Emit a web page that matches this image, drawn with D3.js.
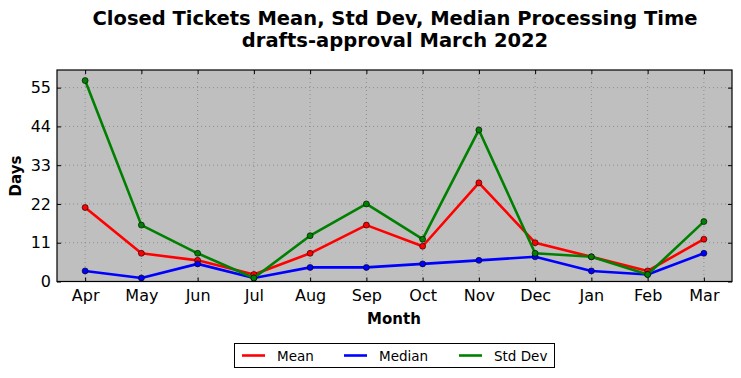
<!DOCTYPE html>
<html><head><meta charset="utf-8">
<script src="https://cdn.jsdelivr.net/npm/d3@7"></script>
<style>body{margin:0;background:#fff}svg{display:block}text{font-family:"DejaVu Sans",sans-serif}</style>
</head><body>
<svg id="c" width="741" height="378"></svg>
<script>
const months = ["Apr","May","Jun","Jul","Aug","Sep","Oct","Nov","Dec","Jan","Feb","Mar"];
const meanVals = [21, 8, 6, 2, 8, 16, 10, 28, 11, 7, 3, 12];
const medianVals = [3, 1, 5, 1, 4, 4, 5, 6, 7, 3, 2, 8];
const stdVals = [57, 16, 8, 1, 13, 22, 12, 43, 8, 7, 2, 17];
const yTicks = [0, 11, 22, 33, 44, 55];
const seriesNames = ["Mean", "Median", "Std Dev"];
const seriesColors = ["#ff0000", "#0000ff", "#008000"];

const svg = d3.select("#c");
const L = 57, R = 732, T = 70, B = 281.5;
const x = d3.scaleLinear().domain([-0.5, months.length - 0.5]).range([L, R]);
const y = d3.scaleLinear().domain([0, 60]).range([B, T]);

svg.append("rect").attr("x", L).attr("y", T).attr("width", R - L).attr("height", B - T).attr("fill", "#bfbfbf");

// grid
const g = svg.append("g");
months.forEach((m, i) => {
  g.append("line").attr("x1", x(i)).attr("x2", x(i)).attr("y1", T).attr("y2", B)
    .attr("stroke", "#808080").attr("stroke-width", 0.8).attr("stroke-dasharray", "1,3");
});
yTicks.forEach(v => {
  g.append("line").attr("x1", L).attr("x2", R).attr("y1", y(v)).attr("y2", y(v))
    .attr("stroke", "#808080").attr("stroke-width", 0.8).attr("stroke-dasharray", "1,3");
});

// axes with inward ticks
const xAxis = d3.axisBottom(x).tickValues(d3.range(months.length)).tickFormat(i => months[i]).tickSizeInner(-4).tickSizeOuter(0).tickPadding(8);
const xa = svg.append("g").attr("transform", `translate(0,${B})`).call(xAxis);
const xTop = d3.axisTop(x).tickValues(d3.range(months.length)).tickFormat("").tickSizeInner(-4).tickSizeOuter(0);
const xt = svg.append("g").attr("transform", `translate(0,${T})`).call(xTop);
const yAxis = d3.axisLeft(y).tickValues(yTicks).tickSizeInner(-4).tickSizeOuter(0).tickPadding(6);
const ya = svg.append("g").attr("transform", `translate(${L},0)`).call(yAxis);
const yRight = d3.axisRight(y).tickValues(yTicks).tickFormat("").tickSizeInner(-4).tickSizeOuter(0);
const yr = svg.append("g").attr("transform", `translate(${R},0)`).call(yRight);
[xa, xt, ya, yr].forEach(a => { a.select(".domain").remove(); a.selectAll("line").attr("stroke", "#000"); });
xa.selectAll("text").attr("font-size", 16).attr("fill", "#000");
ya.selectAll("text").attr("font-size", 16).attr("fill", "#000");

// series
const data = [meanVals, medianVals, stdVals];
const line = d3.line().x((d, i) => x(i)).y(d => y(d));
data.forEach((vals, s) => {
  svg.append("path").datum(vals).attr("d", line).attr("fill", "none")
    .attr("stroke", seriesColors[s]).attr("stroke-width", 2.6).attr("stroke-linejoin", "round");
  svg.selectAll(null).data(vals).enter().append("circle")
    .attr("cx", (d, i) => x(i)).attr("cy", d => y(d)).attr("r", 3)
    .attr("fill", seriesColors[s]).attr("stroke", "#000").attr("stroke-width", 0.6);
});

// frame
svg.append("rect").attr("x", L).attr("y", T).attr("width", R - L).attr("height", B - T)
  .attr("fill", "none").attr("stroke", "#000").attr("stroke-width", 1.2);

// titles
svg.append("text").attr("x", 395).attr("y", 25).attr("text-anchor", "middle")
  .attr("font-size", 19.5).attr("font-weight", "bold").text("Closed Tickets Mean, Std Dev, Median Processing Time");
svg.append("text").attr("x", 395).attr("y", 47).attr("text-anchor", "middle")
  .attr("font-size", 19.5).attr("font-weight", "bold").text("drafts-approval March 2022");
svg.append("text").attr("x", 394).attr("y", 324).attr("text-anchor", "middle")
  .attr("font-size", 15).attr("font-weight", "bold").text("Month");
svg.append("text").attr("transform", "translate(21,176) rotate(-90)").attr("text-anchor", "middle")
  .attr("font-size", 15).attr("font-weight", "bold").text("Days");

// legend
const lg = svg.append("g");
lg.append("rect").attr("x", 234.5).attr("y", 343.5).attr("width", 320).attr("height", 24)
  .attr("fill", "#fff").attr("stroke", "#000").attr("stroke-width", 1);
const lx = [242, 344, 459];
seriesNames.forEach((n, i) => {
  lg.append("line").attr("x1", lx[i]).attr("x2", lx[i] + 23).attr("y1", 355.5).attr("y2", 355.5)
    .attr("stroke", seriesColors[i]).attr("stroke-width", 2.6);
  lg.append("text").attr("x", lx[i] + 35).attr("y", 360.5).attr("font-size", 13.5).text(n);
});
</script>
</body></html>
